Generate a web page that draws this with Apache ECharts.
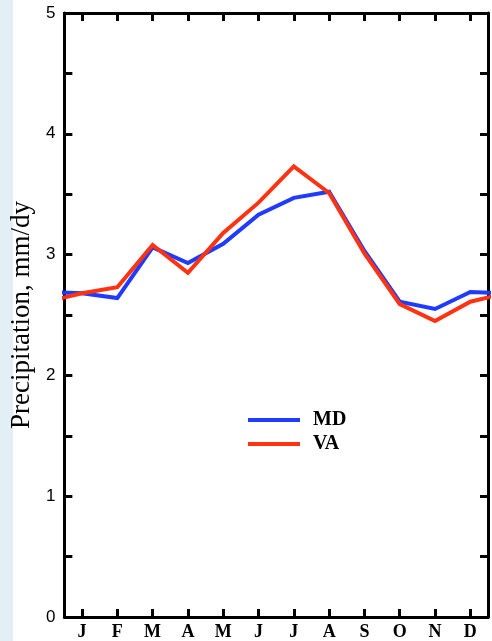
<!DOCTYPE html>
<html>
<head>
<meta charset="utf-8">
<script src="https://cdn.jsdelivr.net/npm/echarts@6/dist/echarts.min.js"></script>
<style>
  html, body { margin: 0; padding: 0; background: #ffffff; }
  #chart { width: 492px; height: 641px; }
</style>
</head>
<body>
<div id="chart"></div>
<script>
// Monthly mean precipitation (mm/day)
const months = ['J', 'F', 'M', 'A', 'M', 'J', 'J', 'A', 'S', 'O', 'N', 'D'];
const mdPrecip = [2.68, 2.64, 3.06, 2.93, 3.09, 3.33, 3.47, 3.52, 3.03, 2.61, 2.55, 2.69];
const vaPrecip = [2.68, 2.73, 3.08, 2.85, 3.18, 3.43, 3.73, 3.51, 3.01, 2.59, 2.45, 2.61];

// Months sit at x = 1..12 on the data axis; the annual cycle wraps so December
// repeats at x = 0 and January at x = 13, letting the curve run to both plot edges.
function cyclic(values) {
  const pts = values.map((v, i) => [i + 1, v]);
  return [[0, values[values.length - 1]], ...pts, [values.length + 1, values[0]]];
}

const axisColor = '#000000';
const serif = '"Liberation Serif", "Times New Roman", serif';
const lineAxis = { show: true, onZero: false, lineStyle: { color: axisColor, width: 3 } };
const tickStyle = { color: axisColor, width: 3 };

const chart = echarts.init(document.getElementById('chart'), null, { renderer: 'canvas' });

chart.setOption({
  animation: false,
  backgroundColor: '#ffffff',
  graphic: [{
    type: 'rect',
    left: 0, top: 0,
    shape: { width: 13, height: 641 },
    style: { fill: '#e2eff5' },
    z: -10
  }],
  grid: { left: 64, right: 4, top: 13, bottom: 24, containLabel: false },
  legend: {
    orient: 'vertical',
    left: 243,
    top: 405,
    icon: 'rect',
    itemWidth: 52,
    itemHeight: 4,
    itemGap: 4,
    textStyle: {
      fontFamily: serif, fontSize: 20, fontWeight: 'bold', color: '#000',
      padding: [0, 0, 0, 8]
    },
    data: ['MD', 'VA']
  },
  xAxis: [
    {
      type: 'category', position: 'bottom', data: months, boundaryGap: true,
      axisLine: lineAxis,
      axisTick: { show: true, inside: true, length: 8, alignWithLabel: true, lineStyle: tickStyle },
      axisLabel: {
        margin: 6, fontFamily: serif, fontSize: 18, fontWeight: 'bold', color: '#000'
      },
      splitLine: { show: false }
    },
    {
      type: 'category', position: 'top', data: months, boundaryGap: true,
      axisLine: lineAxis,
      axisTick: { show: true, inside: true, length: 8, alignWithLabel: true, lineStyle: tickStyle },
      axisLabel: { show: false },
      splitLine: { show: false }
    },
    {
      // data axis for the curves, one unit per month
      type: 'value', show: false, min: 0.5, max: 12.5,
      axisLine: { show: false, onZero: false },
      splitLine: { show: false }
    }
  ],
  yAxis: [
    {
      type: 'value', position: 'left', min: 0, max: 5, interval: 0.5,
      name: 'Precipitation, mm/dy',
      nameLocation: 'middle',
      nameGap: 27,
      nameTextStyle: { fontFamily: serif, fontSize: 27, color: '#000' },
      axisLine: lineAxis,
      axisTick: { show: true, inside: true, length: 8, lineStyle: tickStyle },
      axisLabel: {
        margin: 9, fontFamily: '"Liberation Sans", sans-serif', fontSize: 17, color: '#000',
        formatter: v => (Math.abs(v - Math.round(v)) < 1e-6 ? String(Math.round(v)) : '')
      },
      splitLine: { show: false }
    },
    {
      type: 'value', position: 'right', min: 0, max: 5, interval: 0.5,
      axisLine: lineAxis,
      axisTick: { show: true, inside: true, length: 8, lineStyle: tickStyle },
      axisLabel: { show: false },
      splitLine: { show: false }
    }
  ],
  series: [
    {
      name: 'MD', type: 'line', xAxisIndex: 2, yAxisIndex: 0,
      data: cyclic(mdPrecip), symbol: 'none', clip: true,
      lineStyle: { color: '#1f3bff', width: 4, join: 'miter' },
      itemStyle: { color: '#1f3bff' }
    },
    {
      name: 'VA', type: 'line', xAxisIndex: 2, yAxisIndex: 0,
      data: cyclic(vaPrecip), symbol: 'none', clip: true,
      lineStyle: { color: '#ff3311', width: 4, join: 'miter' },
      itemStyle: { color: '#ff3311' }
    }
  ]
});
</script>
</body>
</html>
